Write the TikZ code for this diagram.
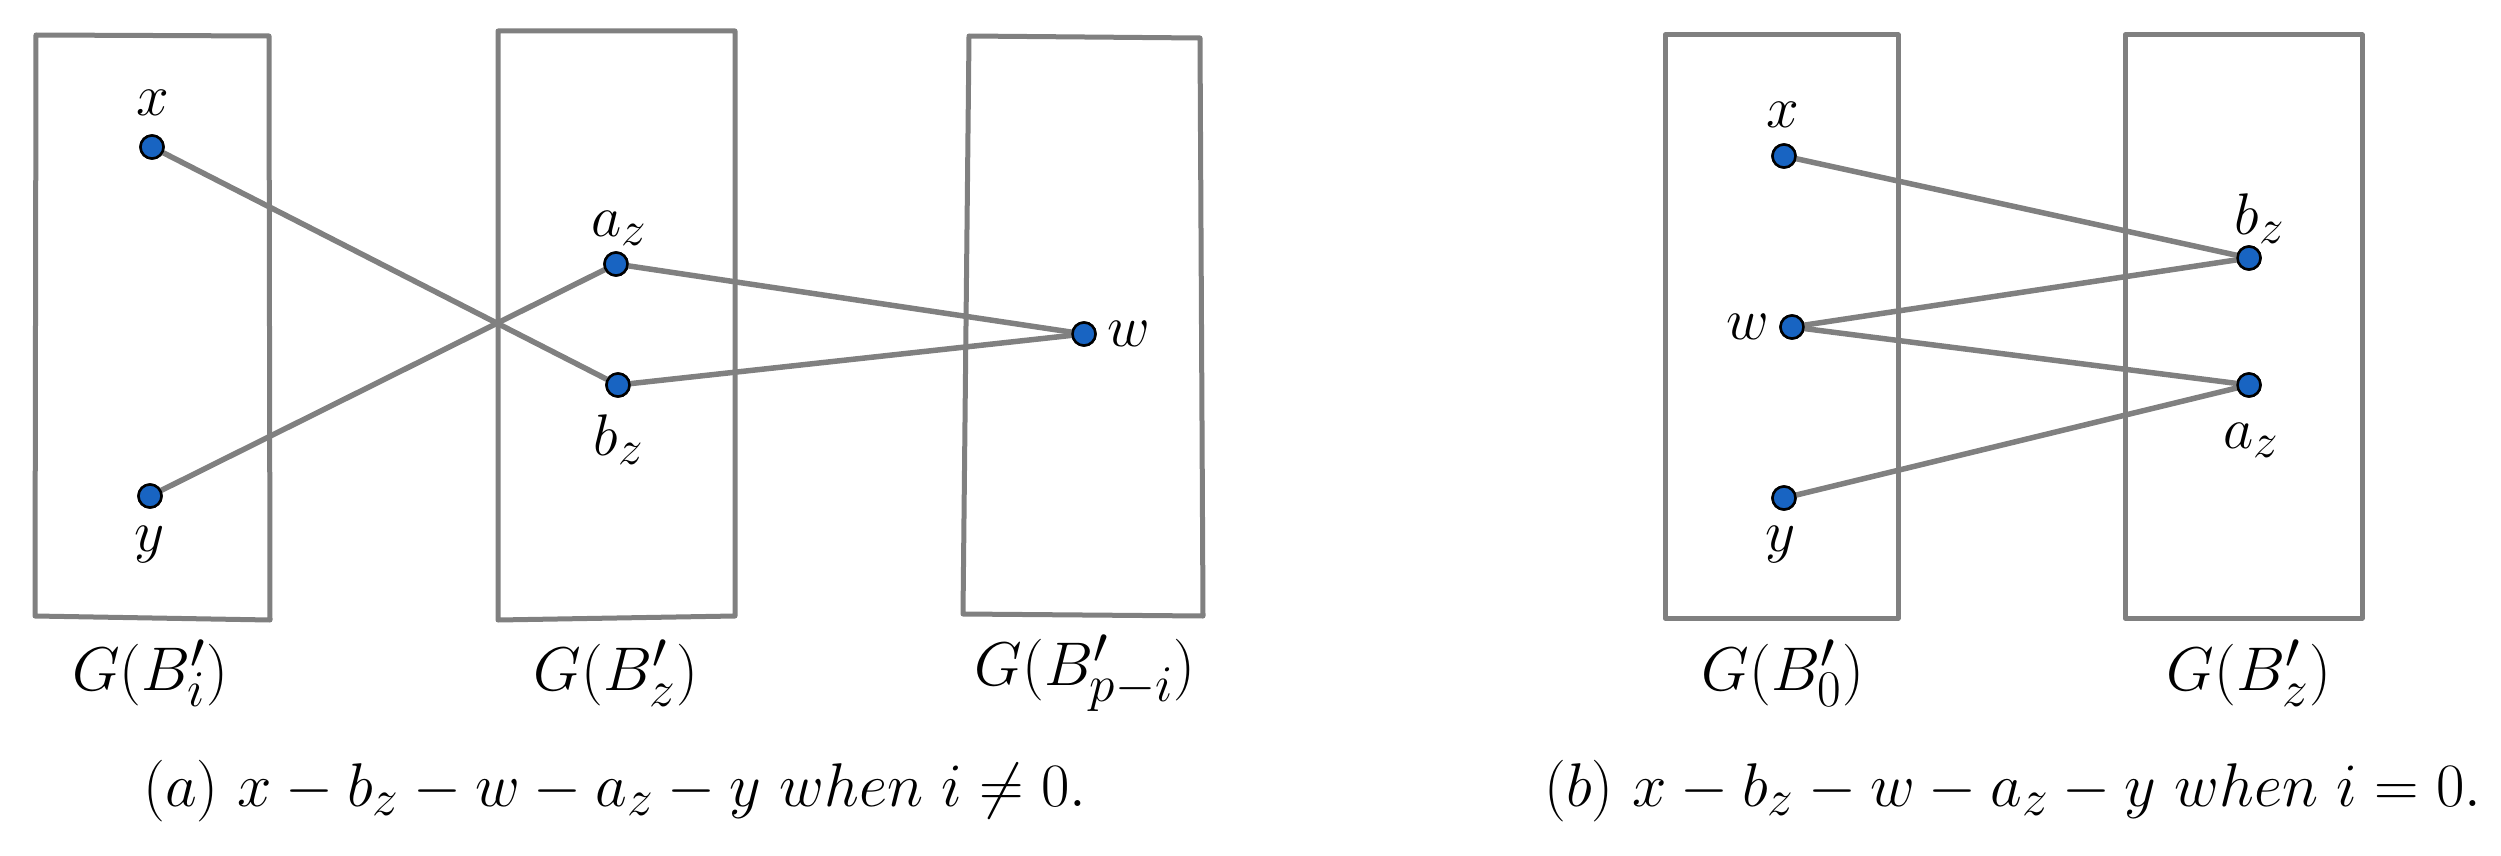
\documentclass[tikz,border=0pt]{standalone}
\usepackage{tikz}
\definecolor{linegray}{RGB}{128,128,128}
\definecolor{dotblue}{RGB}{24,100,194}
\tikzset{
  boxline/.style={draw=linegray, line width=5pt, line join=round, line cap=round},
  edge/.style={draw=linegray, line width=5.5pt, line cap=round},
  vtx/.style={circle, fill=dotblue, draw=black, line width=2.5pt, inner sep=0pt, minimum size=23pt},
  lbl/.style={font=\Huge, inner sep=0pt, scale=2.36},
  biglbl/.style={font=\Huge, inner sep=0pt, scale=2.48},
}
\begin{document}
\begin{tikzpicture}[x=1pt,y=-1pt]
\useasboundingbox (0,0) rectangle (2501,856);
% ---- part (a) boxes
\draw[boxline] (36,35) -- (269,36) -- (270,620) -- (35,616) -- cycle;
\draw[boxline] (498,31) -- (735,31) -- (735,616) -- (498,620) -- cycle;
\draw[boxline] (969,36) -- (1200,38) -- (1203,616) -- (963,614) -- cycle;
% ---- part (b) boxes
\draw[boxline] (1665,35) -- (1898,35) -- (1898,618) -- (1665,618) -- cycle;
\draw[boxline] (2125,35) -- (2362,35) -- (2362,618) -- (2125,618) -- cycle;

% ---- part (a) vertices
\node[vtx] (ax) at (152,147) {};
\node[vtx] (ay) at (150,496) {};
\node[vtx] (aaz) at (616,264) {};
\node[vtx] (abz) at (618,385) {};
\node[vtx] (aw) at (1084,334) {};
\draw[edge] (ax) -- (abz);
\draw[edge] (ay) -- (aaz);
\draw[edge] (aaz) -- (aw);
\draw[edge] (abz) -- (aw);
\node[vtx] at (ax) {};
\node[vtx] at (ay) {};
\node[vtx] at (aaz) {};
\node[vtx] at (abz) {};
\node[vtx] at (aw) {};

\node[lbl] (axl) at (153,103) {$x$};
\node[lbl] (ayl) at (150,545) {$y$};
\node[lbl] (aazl) at (619,228) {$a_z$};
\node[lbl] (abzl) at (619,440) {$b_z$};
\node[lbl, anchor=west] (awl) at (1107,334) {$w$};

\node[biglbl] (ga1) at (150,673) {$G(B'_i)$};
\node[biglbl] (ga2) at (616,673) {$G(B'_z)$};
\node[biglbl] (ga3) at (1085,673) {$G(B'_{p-i})$};
\node[biglbl] (capa) at (615,791) {$(a)\ x-b_z-w-a_z-y\ when\ i\neq 0.$};

% ---- part (b) vertices
\node[vtx] (bx) at (1784,156) {};
\node[vtx] (bw) at (1792,327) {};
\node[vtx] (by) at (1784,498) {};
\node[vtx] (bbz) at (2249,258) {};
\node[vtx] (baz) at (2249,385) {};
\draw[edge] (bx) -- (bbz);
\draw[edge] (bw) -- (bbz);
\draw[edge] (bw) -- (baz);
\draw[edge] (by) -- (baz);
\node[vtx] at (bx) {};
\node[vtx] at (bw) {};
\node[vtx] at (by) {};
\node[vtx] at (bbz) {};
\node[vtx] at (baz) {};

\node[lbl] (bxl) at (1783,115) {$x$};
\node[lbl, anchor=east] (bwl) at (1770,327) {$w$};
\node[lbl] (byl) at (1781,545) {$y$};
\node[lbl] (bbzl) at (2260,219) {$b_z$};
\node[lbl] (bazl) at (2251,440) {$a_z$};

\node[biglbl] (gb1) at (1783,673) {$G(B'_0)$};
\node[biglbl] (gb2) at (2249,673) {$G(B'_z)$};
\node[biglbl] (capb) at (2013,791) {$(b)\ x-b_z-w-a_z-y\ when\ i=0.$};
\end{tikzpicture}
\end{document}
